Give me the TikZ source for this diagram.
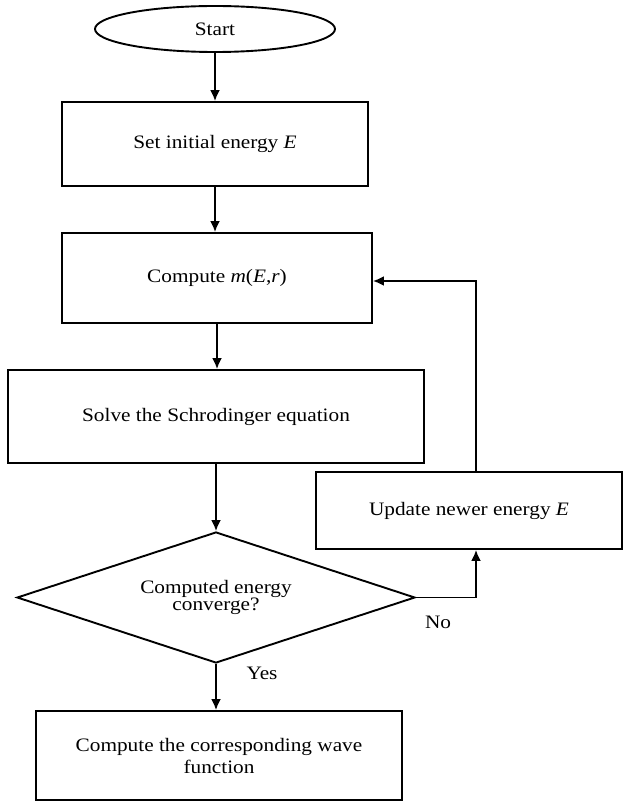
\documentclass[tikz,border=0pt]{standalone}
\usepackage{fontspec}
\setmainfont[FakeStretch=1.12]{Liberation Serif}
\usetikzlibrary{shapes.geometric,arrows.meta}
\begin{document}
\begin{tikzpicture}[x=1pt,y=-1pt,
  every node/.style={font=\fontsize{19}{20}\selectfont},
  box/.style={draw,line width=1.9pt,rectangle,inner sep=0pt,align=center},
  arr/.style={line width=1.9pt,-{Latex[length=11pt,width=10pt]}},
  lbl/.style={inner sep=0pt}]
\useasboundingbox (0,0) rectangle (624,802);
\node[draw,line width=1.9pt,ellipse,minimum width=240pt,minimum height=46pt,inner sep=0pt] (start) at (215,29) {Start};
\node[box,minimum width=306pt,minimum height=84pt] (set) at (215,144) {Set initial energy \textit{E}};
\node[box,minimum width=310pt,minimum height=90pt] (comp) at (217,278) {Compute \textit{m}(\textit{E},\textit{r})};
\node[box,minimum width=416pt,minimum height=93pt] (solve) at (216,416.5) {Solve the Schrodinger equation};
\node[box,minimum width=306pt,minimum height=77pt] (upd) at (469,510.5) {Update newer energy \textit{E}};
\node[draw,line width=1.9pt,diamond,aspect=3,inner sep=0pt,minimum width=398pt,minimum height=131pt,align=center,font=\fontsize{19}{16}\selectfont] (dec) at (216,597.5) {Computed energy\\converge?};
\node[box,minimum width=366pt,minimum height=89pt,font=\fontsize{19}{22}\selectfont] (final) at (219,755.5) {Compute the corresponding wave\\function};
\coordinate (loopx) at (476,0);
\draw[arr] (start) -- (set);
\draw[arr] (set) -- (set |- comp.north);
\draw[arr] (comp) -- (comp |- solve.north);
\draw[arr] (solve) -- (dec);
\draw[arr] (dec) -- (dec |- final.north);
\draw[arr] (dec.east) -| (upd.south -| loopx);
\draw[arr] (upd.north -| loopx) |- ([yshift=-3pt]comp.east);
\node[lbl] (no) at (438,622) {No};
\node[lbl] (yes) at (262,673) {Yes};
\end{tikzpicture}
\end{document}
